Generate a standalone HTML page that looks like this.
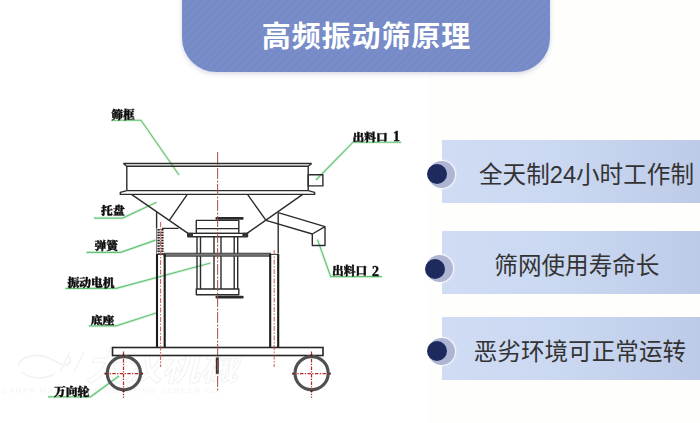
<!DOCTYPE html>
<html lang="zh-CN">
<head>
<meta charset="utf-8">
<title>高频振动筛原理</title>
<style>
html,body{margin:0;padding:0;}
body{width:700px;height:423px;position:relative;overflow:hidden;background:#fefefd;
  font-family:"Liberation Sans","Noto Sans CJK SC",sans-serif;}
#left{position:absolute;left:0;top:0;width:428px;height:423px;background:#ffffff;}
#hdr{position:absolute;left:182px;top:-10px;width:368px;height:82px;
  border-radius:0 0 34px 34px;
  background:repeating-linear-gradient(135deg,#798ec9 0,#798ec9 2.8px,#758ac6 2.8px,#758ac6 5.6px);
  box-shadow:0 2px 5px rgba(120,125,160,0.28);}
#title{position:absolute;left:182px;top:0;width:368px;height:72px;line-height:74px;text-align:center;text-indent:0.9px;
  color:#fff;font-weight:bold;font-size:29px;letter-spacing:0.9px;white-space:nowrap;}
.pn{position:absolute;left:442px;width:258px;height:63px;
  background:linear-gradient(90deg,#cfdcf4 0%,#cbd8f1 45%,#bdcbe8 100%);}
.pt{position:absolute;white-space:nowrap;font-size:23.6px;color:#333;line-height:30px;height:30px;}
.b2{position:absolute;width:27px;height:27px;border-radius:50%;background:#adb5d3;box-shadow:0 0 1.5px 1.2px rgba(255,255,255,0.8);}
.b1{position:absolute;width:20px;height:20px;border-radius:50%;background:#1e2a5e;}
#dg{position:absolute;left:0;top:0;filter:blur(0.35px);}
.lb{font-family:"Liberation Serif","Noto Serif CJK SC",serif;font-weight:900;font-size:11.8px;fill:#0c0c0c;stroke:#0c0c0c;stroke-width:0.4px;}
</style>
</head>
<body>
<div id="left"></div>
<div id="hdr"></div>
<div id="title">高频振动筛原理</div>

<div class="pn" style="top:140px"></div>
<div class="pn" style="top:231px"></div>
<div class="pn" style="top:317px"></div>

<div class="b2" style="left:427.5px;top:161px"></div><div class="b1" style="left:427px;top:164.3px"></div>
<div class="b2" style="left:426px;top:255.2px"></div><div class="b1" style="left:425.2px;top:258.7px"></div>
<div class="b2" style="left:427.5px;top:337.8px"></div><div class="b1" style="left:427px;top:341.2px"></div>

<div class="pt" style="left:479px;top:160.3px">全天制24小时工作制</div>
<div class="pt" style="left:494.3px;top:251px">筛网使用寿命长</div>
<div class="pt" style="left:473.8px;top:336.7px">恶劣环境可正常运转</div>

<svg id="dg" width="425" height="423" viewBox="0 0 425 423">
<!-- watermark -->
<g opacity="0.45" fill="none" stroke="#e2e2e2">
<text x="86" y="380" font-size="38" font-weight="bold" font-style="italic" fill="#ffffff" stroke="#e0e0e0" stroke-width="0.9" font-family="'Liberation Sans','Noto Sans CJK SC',sans-serif">大汉机械</text>
<path d="M18,366c2,-9 16,-13 28,-9c9,3 14,9 20,8c5,-1 6,-6 2,-9 M22,372c8,7 22,8 32,2" stroke-width="1.6"/>
<path d="M70,352L60,372 M84,352L74,372" stroke-width="1.2"/>
<text x="2" y="393" font-size="7.5" letter-spacing="1.6" fill="#e6e6e6" stroke="none" font-family="'Liberation Sans',sans-serif">DAHAN MACHINERY VIBRATING SCREEN CO.</text>
</g>
<!-- green leaders -->
<g fill="none" stroke="#a9e0b1" stroke-width="3" opacity="0.35">
<polyline points="111,120.2 141,120.2 179,175"/>
<polyline points="94,218.1 122.5,218.1 156.6,202.2"/>
<polyline points="86.5,252.4 120.6,252.4 155.6,240.1"/>
<polyline points="65.2,288.4 116.3,288.4 210.5,263"/>
<polyline points="88.8,325.9 116.3,325.9 156,313"/>
<polyline points="48,396.8 90.6,396.8 119,376"/>
<polyline points="401.3,142.2 353,142.2 316,180"/>
<polyline points="381.9,276.6 330.7,276.6 317.5,239.6"/>
</g>
<g fill="none" stroke="#66c477" stroke-width="1.15">
<polyline points="111,120.2 141,120.2 179,175"/>
<polyline points="94,218.1 122.5,218.1 156.6,202.2"/>
<polyline points="86.5,252.4 120.6,252.4 155.6,240.1"/>
<polyline points="65.2,288.4 116.3,288.4 210.5,263"/>
<polyline points="88.8,325.9 116.3,325.9 156,313"/>
<polyline points="48,396.8 90.6,396.8 119,376"/>
<polyline points="401.3,142.2 353,142.2 316,180"/>
<polyline points="381.9,276.6 330.7,276.6 317.5,239.6"/>
</g>
<!-- machine -->
<g fill="none" stroke="#2c2c2c" stroke-width="1.4" stroke-linejoin="round">
<!-- frame -->
<path d="M123.3,163.5H311.7 M126,166.2H308.4 M123.3,163.5L126.8,166.2V190.6 M311.7,163.5L308.2,166.2V190.6 M126.8,190.6H308.2"/>
<path d="M126.8,190.6L120.3,192.4V194.4H314.6V192.4L308.2,190.6"/>
<rect x="308.2" y="174.7" width="14.7" height="11.2"/>
<!-- cone -->
<path d="M131.5,194.4L188,233.4 M302.7,194.4L247,233.4 M187.3,194.4L169.5,220.2 M247.5,194.4L266,220.4"/>
<!-- side verticals -->
<path d="M156.6,212.2V228.4 M162,228.4H178.5 M278.2,212.7V253.5"/>
<!-- chute -->
<path d="M278.2,212.7L325,226.7V245.5H312.3V234L325,226.7 M266,220.4L312.3,234"/>
<!-- motor -->
<path d="M196.3,220.4H238.8V233.4H196.3Z M196.3,228.6H238.8"/>
<path d="M188,233.4H247.2V236.7H188Z"/>
<path d="M197,236.7V289 M200.5,236.7V289 M214,236.7V289 M221,236.7V289 M234.2,236.7V289 M237.7,236.7V289"/>
<path d="M196.3,289H238.8V294.8H196.3Z"/>
</g>
<!-- bolts -->
<path d="M187,232.8H193V237H187Z M242.4,232.8H248.2V237H242.4Z" fill="#333"/>
<!-- beam -->
<rect x="164" y="253.2" width="106.5" height="3" fill="#777" stroke="#3a3a3a" stroke-width="0.9"/>
<g fill="none" stroke="#2a2a2a" stroke-width="2.8" stroke-linecap="round">
<path d="M216.8,218.4H242.3 M216.8,297.2H242.3"/>
</g>
<!-- spring -->
<rect x="157.4" y="229" width="5.8" height="25" fill="#f3dede" stroke="none"/>
<path d="M158.6,229V254 M162.4,229V254" stroke="#2a2a2a" stroke-width="2.4" stroke-dasharray="1.5 1.2" fill="none"/>
<path d="M156.6,228.4V254" stroke="#444" stroke-width="0.8" fill="none"/>
<!-- legs -->
<g fill="none" stroke="#1c1c1c" stroke-width="2.1">
<path d="M157,254V347.6 M164.7,254V347.6 M270.2,254V347.6 M278.2,254V347.6"/>
</g>
<path d="M157.2,254.4H164.4 M270.4,254.4H278" stroke="#2a2a2a" stroke-width="1"/>
<!-- base -->
<rect x="112.5" y="347.5" width="210.5" height="8" fill="#fff" stroke="#262626" stroke-width="1.6"/>
<!-- wheels -->
<g fill="none" stroke="#505050" stroke-width="3.2">
<circle cx="123.9" cy="373.2" r="16.6"/>
<circle cx="311.6" cy="373.2" r="16.6"/>
</g>
<!-- bolt -->
<path d="M217.3,357.5V373.8" stroke="#333" stroke-width="3"/>
<!-- red centre lines -->
<g fill="none" stroke="#a8503e" stroke-width="1.1" stroke-dasharray="11 1.5 2 1.5" opacity="0.92">
<path d="M217.6,152V391"/>
</g>
<g fill="none" stroke="#b8443a" stroke-width="1" stroke-dasharray="5 1.5 1.5 1.5" opacity="0.85">
<path d="M160.6,222V367 M274.2,250V367"/>
</g>
<g fill="none" stroke="#b32a2a" stroke-width="1.25" stroke-dasharray="3.4 1.4 1.3 1.4">
<path d="M123.5,351.5V397.8 M104.8,373.6H142.7"/>
<path d="M311.5,351.5V397.8 M292.5,373.6H330.5"/>
</g>
<path d="M104.6,373.6h1.6 M141.4,373.6h1.6 M292.3,373.6h1.6 M329.2,373.6h1.6 M123.5,354.6v1.6 M123.5,390.4v1.6 M311.5,354.6v1.6 M311.5,390.4v1.6" stroke="#3a2020" stroke-width="1.8"/>
<!-- labels -->
<g class="lb">
<text transform="translate(111.2,119.0) scale(1,1.00)">筛框</text>
<text transform="translate(101.1,215.2) scale(1,0.94)">托盘</text>
<text transform="translate(94.4,250.3) scale(1,0.94)">弹簧</text>
<text transform="translate(67.4,286.9) scale(1,0.97)">振动电机</text>
<text transform="translate(90.8,323.8) scale(1,0.86)">底座</text>
<text transform="translate(54.0,395.8) scale(1,0.98)">万向轮</text>
<text transform="translate(352.4,140.7) scale(1,0.86)">出料口</text>
<text transform="translate(393.0,141.2) scale(1,0.98)" font-size="14">1</text>
<text transform="translate(332.0,275.0) scale(1,0.94)">出料口</text>
<text transform="translate(372.0,275.5) scale(1,1.05)" font-size="14">2</text>
</g>
</svg>
</body>
</html>
